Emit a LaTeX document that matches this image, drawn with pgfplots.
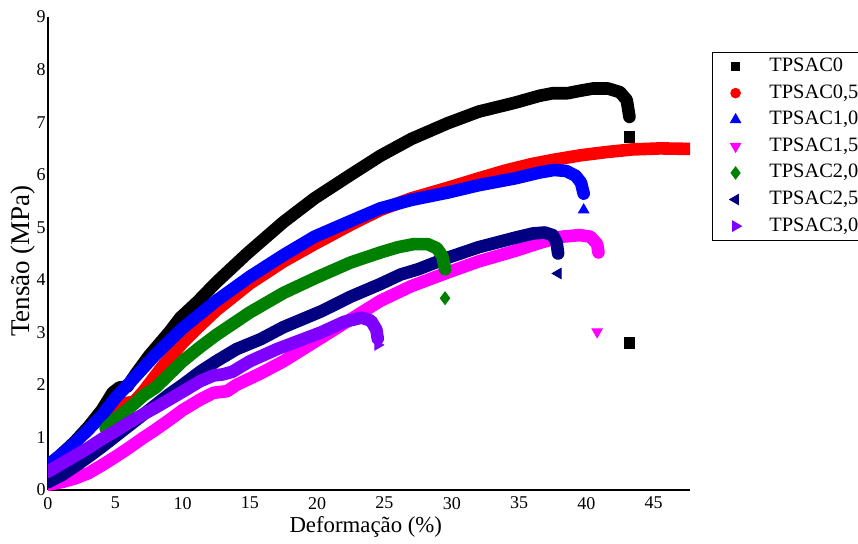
\documentclass[border=0pt]{standalone}
\usepackage{fontspec}
\setmainfont{Liberation Serif}
\usepackage{pgfplots}
\pgfplotsset{compat=1.18}
\definecolor{cnavy}{RGB}{0,0,128}
\definecolor{cgreen}{RGB}{0,128,0}
\definecolor{cpurple}{RGB}{128,0,255}
\definecolor{cmag}{RGB}{255,0,255}
\definecolor{cblue}{RGB}{0,0,255}
\definecolor{cred}{RGB}{255,0,0}
\pgfplotsset{lm/.style={only marks, legend image code/.code={\path (0cm,0cm) (0.95cm,0cm); \draw[mark repeat=2,mark phase=2,##1] plot coordinates {(0cm,0cm) (0.4cm,0cm) (0.95cm,0cm)};}}}
\begin{document}
\begin{tikzpicture}
\begin{axis}[
  scale only axis, width=321pt, height=236.5pt,
  xmin=0, xmax=47.7, ymin=0, ymax=9,
  axis x line=bottom, axis y line=left,
  axis line style={-, line width=1pt},
  xtick={0,5,...,45}, ytick={0,1,...,9},
  major tick length=0pt,
  tick label style={font=\fontsize{9}{10}\selectfont},
  yticklabel style={inner xsep=1pt},
  /pgf/number format/assume math mode=true,
  xlabel={Deformação (\%)}, ylabel={Tensão (MPa)},
  every axis x label/.style={at={(axis description cs:0.495,-0.078)}, anchor=center, font=\fontsize{11.4}{13}\selectfont},
  every axis y label/.style={at={(axis description cs:-0.039,0.484)}, rotate=90, anchor=center, font=\fontsize{13.5}{15}\selectfont},
  legend style={at={(axis description cs:1.034,0.926)}, anchor=north west,
    draw=black, line width=0.5pt, font=\fontsize{10.2}{12}\selectfont,
    inner xsep=0pt, inner ysep=1.5pt, row sep=2.3pt,
    nodes={inner sep=1pt, text height=7pt, text depth=2pt},
    cells={anchor=west}},
  band/.style={line width=6.3pt, line join=round, line cap=round, mark=none, forget plot},
  iso/.style={only marks, mark size=3pt, forget plot},
]
% TPSAC0 black
\addplot[band, black] coordinates {(0,0.45)(1,0.68)(2,0.92)(3,1.2)(4,1.52)(4.8,1.85)(5.3,1.95)(5.9,1.97)(6.5,2.2)(7.5,2.55)(9,3.0)(9.84,3.28)(11.1,3.58)(12.5,3.95)(14.8,4.5)(17.5,5.1)(19.8,5.55)(22.5,6.0)(24.7,6.36)(27,6.68)(29.7,6.98)(32,7.2)(34.7,7.37)(36.5,7.5)(37.5,7.55)(38.6,7.55)(39.6,7.6)(40.5,7.64)(41.6,7.64)(42.5,7.57)(43.0,7.42)(43.2,7.1)};
% TPSAC0,5 red
\addplot[band, cred] coordinates {(4.3,1.17)(5,1.42)(5.7,1.65)(6.4,1.68)(7.1,1.88)(8.5,2.35)(10,2.8)(11.1,3.08)(12.5,3.42)(15,3.93)(17.5,4.35)(19.8,4.68)(22.5,5.05)(24.7,5.33)(27,5.55)(29.7,5.75)(32,5.93)(34,6.08)(35.9,6.2)(37.5,6.28)(39.6,6.37)(41.5,6.43)(43.4,6.48)(45.5,6.5)(47.7,6.49)};
% TPSAC1,0 blue
\addplot[band, cblue] coordinates {(0,0.47)(1,0.68)(2,0.9)(3,1.15)(4,1.42)(5,1.75)(6,2.02)(8,2.58)(10,3.08)(12.5,3.6)(15,4.06)(17.5,4.47)(19.8,4.82)(22.5,5.12)(24.7,5.36)(27,5.52)(29.7,5.66)(32,5.8)(34.7,5.93)(36.5,6.04)(37.6,6.09)(38.5,6.07)(39.2,5.98)(39.6,5.85)(39.8,5.64)};
% TPSAC1,5 magenta
\addplot[band, cmag] coordinates {(0,0.1)(1,0.15)(2,0.22)(3,0.32)(4,0.47)(5,0.63)(6,0.8)(7,0.98)(8,1.15)(9,1.33)(10,1.52)(11.3,1.72)(12.3,1.85)(13.3,1.88)(14,2.0)(15.8,2.22)(17.5,2.45)(20,2.85)(22.5,3.25)(24.7,3.6)(27,3.88)(29.7,4.14)(32,4.35)(34.7,4.55)(36.5,4.7)(38.2,4.82)(39.5,4.85)(40.3,4.82)(40.8,4.68)(40.9,4.52)};
% TPSAC2,5 navy
\addplot[band, cnavy] coordinates {(0,0.15)(1,0.28)(2,0.45)(3,0.63)(4,0.82)(5,1.02)(6,1.22)(7,1.42)(8,1.62)(9,1.82)(10,2.0)(11.3,2.25)(12.5,2.45)(14,2.68)(15.8,2.87)(17.5,3.1)(20.3,3.4)(22.5,3.68)(24.7,3.92)(26.2,4.1)(27.5,4.2)(29.7,4.42)(32,4.62)(34.7,4.8)(36,4.88)(36.9,4.9)(37.5,4.85)(37.8,4.7)(37.9,4.5)};
% TPSAC2,0 green
\addplot[band, cgreen] coordinates {(4.3,1.17)(5,1.35)(6,1.55)(7.1,1.8)(8,1.95)(9,2.2)(10,2.45)(11.3,2.72)(12.5,2.95)(15,3.38)(17.5,3.75)(20,4.05)(22.5,4.33)(24.7,4.52)(26,4.62)(27.2,4.68)(28.2,4.68)(28.9,4.6)(29.3,4.45)(29.5,4.2)};
% TPSAC3,0 purple
\addplot[band, cpurple] coordinates {(0,0.35)(1,0.5)(2,0.65)(3,0.8)(4,0.97)(5,1.12)(6,1.28)(7,1.43)(8,1.57)(9,1.72)(10,1.87)(11.3,2.07)(12.3,2.18)(13,2.2)(13.7,2.25)(15,2.45)(17,2.68)(20.3,3.0)(22,3.2)(23.3,3.28)(24,3.22)(24.4,3.05)(24.5,2.88)};
% isolated end points
\addplot[iso, black, mark=square*, mark size=2.6pt] coordinates {(43.2,6.72)(43.2,2.80)};
\addplot[iso, cblue, mark=triangle*] coordinates {(39.8,5.33)};
\addplot[iso, cmag, mark=triangle*, mark options={rotate=180}] coordinates {(40.8,3.01)};
\addplot[iso, cgreen, mark=diamond*, mark size=3.2pt] coordinates {(29.5,3.65)};
\addplot[iso, cnavy, mark=triangle*, mark options={rotate=90}] coordinates {(37.9,4.12)};
\addplot[iso, cpurple, mark=triangle*, mark options={rotate=-90}] coordinates {(24.5,2.76)};
% legend
\addlegendimage{lm, mark=square*, black, mark size=2.2pt}
\addlegendentry{TPSAC0}
\addlegendimage{lm, mark=*, cred, mark size=2.4pt}
\addlegendentry{TPSAC0,5}
\addlegendimage{lm, mark=triangle*, cblue, mark size=2.9pt}
\addlegendentry{TPSAC1,0}
\addlegendimage{lm, mark=triangle*, cmag, mark size=2.9pt, mark options={rotate=180}}
\addlegendentry{TPSAC1,5}
\addlegendimage{lm, mark=diamond*, cgreen, mark size=3pt}
\addlegendentry{TPSAC2,0}
\addlegendimage{lm, mark=triangle*, cnavy, mark size=2.9pt, mark options={rotate=90}}
\addlegendentry{TPSAC2,5}
\addlegendimage{lm, mark=triangle*, cpurple, mark size=2.9pt, mark options={rotate=-90}}
\addlegendentry{TPSAC3,0}
\end{axis}
\pgfresetboundingbox
\path (-24pt,-26.5pt) rectangle (405pt,245pt);
\end{tikzpicture}
\end{document}
